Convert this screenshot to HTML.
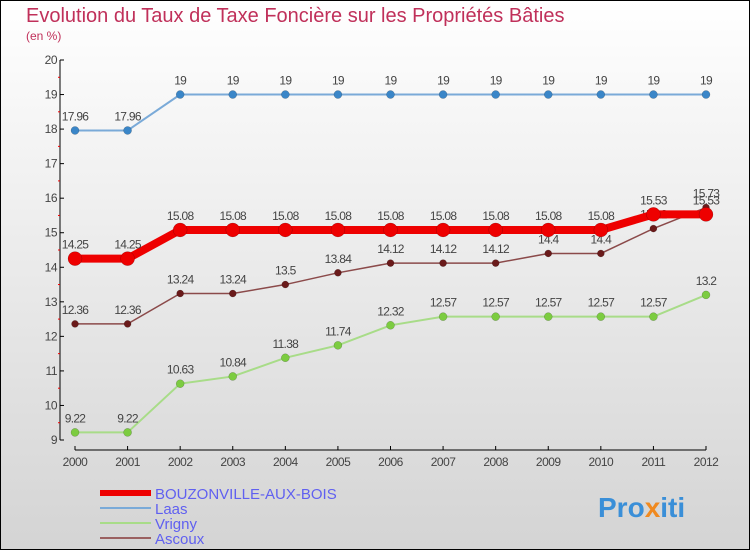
<!DOCTYPE html>
<html><head><meta charset="utf-8"><style>
body{margin:0}
#c{width:750px;height:550px;position:relative;overflow:hidden;font-family:"Liberation Sans",sans-serif}
</style></head><body>
<div id="c">
<svg id="s" width="750" height="550" xmlns="http://www.w3.org/2000/svg">
<defs><linearGradient id="bg" x1="0" y1="0" x2="0" y2="1"><stop offset="0" stop-color="#ffffff"/><stop offset="1" stop-color="#d4d4d4"/></linearGradient></defs>
<rect x="0.5" y="0.5" width="749" height="549" fill="url(#bg)" stroke="#000"/>
<text x="26" y="22" font-size="20" fill="#c0305a">Evolution du Taux de Taxe Foncière sur les Propriétés Bâties</text>
<text x="26" y="40" font-size="12" fill="#c0305a">(en %)</text>
<g id="g"></g>
<text x="598" y="517" font-size="28" font-weight="bold" fill="#3a8fd8">Pro<tspan fill="#f08a20">x</tspan>iti</text>
</svg>
</div>
<script>
const years=[2000,2001,2002,2003,2004,2005,2006,2007,2008,2009,2010,2011,2012];
const yTicks=[9,10,11,12,13,14,15,16,17,18,19,20];
const bouz=[14.25,14.25,15.08,15.08,15.08,15.08,15.08,15.08,15.08,15.08,15.08,15.53,15.53];
const laas=[17.96,17.96,19,19,19,19,19,19,19,19,19,19,19];
const vrigny=[9.22,9.22,10.63,10.84,11.38,11.74,12.32,12.57,12.57,12.57,12.57,12.57,13.2];
const ascoux=[12.36,12.36,13.24,13.24,13.5,13.84,14.12,14.12,14.12,14.4,14.4,15.12,15.73];
const X=i=>75+i*(631/12);
const Y=v=>440-(v-9)*(380/11);
const g=document.getElementById('g');
const NS='http://www.w3.org/2000/svg';
function mk(t,a,txt){const e=document.createElementNS(NS,t);for(const k in a)e.setAttribute(k,a[k]);if(txt!==undefined)e.textContent=txt;g.appendChild(e);return e;}
let e=mk('line',{x1:60,y1:60,x2:60,y2:440,stroke:'#000'});


e=mk('line',{x1:75,y1:450,x2:706,y2:450,stroke:'#000'});


yTicks.forEach(v=>{
 mk('line',{x1:60,y1:Y(v),x2:64,y2:Y(v),stroke:'#000'});
 if(v<20){mk('line',{x1:58,y1:Y(v+0.5),x2:60,y2:Y(v+0.5),stroke:'#e00'});}
 e=mk('text',{x:57,y:Y(v)+4,'font-size':12,'text-anchor':'end',fill:'#444','letter-spacing':'-0.5'},v);
 
 
});
years.forEach((y,i)=>{
 mk('line',{x1:X(i),y1:446,x2:X(i),y2:450,stroke:'#000'});
 e=mk('text',{x:X(i),y:466,'font-size':12,'text-anchor':'middle',fill:'#444','letter-spacing':'-0.5'},y);
 
 
});
function series(d,col,w,r,name,fill){
 e=mk('polyline',{points:d.map((v,i)=>X(i)+','+Y(v)).join(' '),fill:'none',stroke:col,'stroke-width':w});
 
 
 d.forEach((v,i)=>{
  e=mk('circle',{cx:X(i),cy:Y(v),r:r,fill:fill,stroke:'rgba(0,0,0,0.3)','stroke-width':0.5});
  
  
  e=mk('text',{x:X(i),y:Y(v)-10,'font-size':12,'text-anchor':'middle',fill:'#444','letter-spacing':'-0.7'},v);
  
  
 });
}
series(laas,'#7aaad8',2,4,'laas','#3a86c8');
series(vrigny,'#a8dc88',2,4,'vrigny','#7ccc40');
series(ascoux,'#8b4a4a',1.5,3.5,'ascoux','#6a1a1a');
series(bouz,'#ee0000',8,7,'bouzonville','#ee0000');
const leg=[['BOUZONVILLE-AUX-BOIS','#ee0000',6],['Laas','#7aaad8',2],['Vrigny','#a8dc88',2],['Ascoux','#9a6060',2]];
leg.forEach((l,i)=>{
 const yy=493+i*15;
 e=mk('line',{x1:100,y1:yy,x2:151,y2:yy,stroke:l[1],'stroke-width':l[2]});
 
 
 e=mk('text',{x:155,y:yy+6,'font-size':15,fill:'#6060f0'},l[0]);
 
 
});
</script>
</body></html>
